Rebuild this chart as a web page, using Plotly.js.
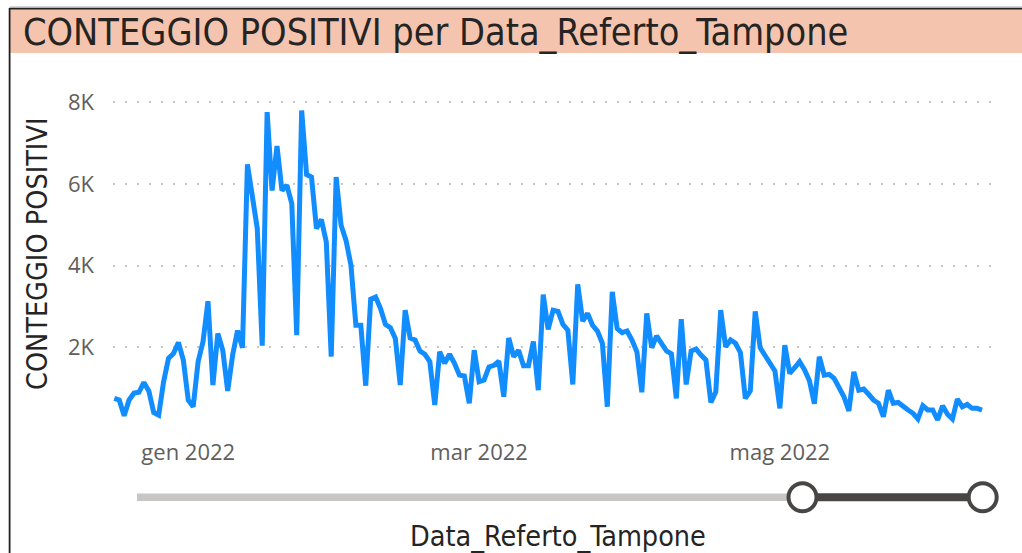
<!DOCTYPE html>
<html>
<head>
<meta charset="utf-8">
<script src="https://cdn.plot.ly/plotly-3.0.1.min.js"></script>
<style>
html,body{margin:0;padding:0;background:#fff;}
#chart{width:1022px;height:553px;}
</style>
</head>
<body>
<div id="chart"></div>
<script>
// ---- data ----
const startDate = '2021-12-17';
const positivi = [
  750, 710, 325, 710, 880, 900, 1140, 930, 400, 340,
  1160, 1730, 1850, 2120, 1690, 710, 545, 1650, 2140, 3130,
  1075, 2340, 1930, 930, 1810, 2410, 1990, 6480, 5700, 4910,
  2040, 7760, 5840, 6930, 5840, 5970, 5520, 2300, 7800, 6230,
  6170, 4910, 5130, 4580, 1770, 6170, 4990, 4620, 4010, 2540,
  2540, 1060, 3180, 3230, 2950, 2560, 2480, 2220, 1075, 2910,
  2230, 2180, 1910, 1830, 1650, 590, 1890, 1610, 1830, 1610,
  1320, 1300, 630, 1930, 1160, 1200, 1520, 1560, 1660, 790,
  2230, 1770, 1930, 1550, 1550, 2140, 950, 3290, 2440, 2910,
  2880, 2560, 2420, 1090, 3540, 2640, 2830, 2540, 2400, 2100,
  545, 3360, 2460, 2360, 2400, 2180, 1890, 900, 2830, 1990,
  2280, 2100, 1910, 1840, 750, 2690, 1090, 1910, 1960, 1810,
  1690, 650, 910, 2910, 2010, 2180, 2100, 1870, 750, 930,
  2880, 1990, 1770, 1610, 1420, 505, 2050, 1360, 1500, 1650,
  1450, 1180, 620, 1770, 1320, 1340, 1240, 1000, 790, 440,
  1400, 950, 980, 850, 710, 630, 300, 950, 630, 650,
  545, 465, 385, 245, 570, 465, 465, 220, 570, 360,
  245, 735, 545, 600, 505, 505, 465
];
const yTickVals = [2000, 4000, 6000, 8000];
const yTickText = ['2K', '4K', '6K', '8K'];
const xTickVals = ['2022-01-01', '2022-03-01', '2022-05-01'];
const xTickText = ['gen 2022', 'mar 2022', 'mag 2022'];
const titleText = 'CONTEGGIO POSITIVI per Data_Referto_Tampone';
const yTitleText = 'CONTEGGIO POSITIVI';
const xTitleText = 'Data_Referto_Tampone';

// dates for each daily value
function dayList(start, n) {
  const out = [];
  const d0 = new Date(start + 'T00:00:00Z');
  for (let i = 0; i < n; i++) {
    const d = new Date(d0.getTime() + i * 86400000);
    out.push(d.toISOString().slice(0, 10));
  }
  return out;
}
const dates = dayList(startDate, positivi.length);

// ---- layout geometry (pixels) ----
const W = 1022, H = 553;
const L = 113, R = 1000, T = 94, B = 441;
const px = x => (x - L) / (R - L);
const py = y => (B - y) / (B - T);

const titleFont = "'DejaVu Sans Condensed', 'Liberation Sans Narrow', 'DejaVu Sans', sans-serif";
const tickFont = "'Open Sans', 'Noto Sans', sans-serif";

const trace = {
  x: dates,
  y: positivi,
  type: 'scatter',
  mode: 'lines',
  line: {color: '#118DFF', width: 5},
  hoverinfo: 'x+y'
};

const shapes = [
  // title band
  {type: 'rect', xref: 'paper', yref: 'paper', x0: px(10), x1: px(1023), y0: py(53), y1: py(8.5),
   fillcolor: '#F5C4AE', line: {width: 0}, layer: 'below'},
  // top grey + black lines
  {type: 'line', xref: 'paper', yref: 'paper', x0: px(10), x1: px(1023), y0: py(6.8), y1: py(6.8),
   line: {color: '#c8c8c8', width: 1.2}},
  {type: 'line', xref: 'paper', yref: 'paper', x0: px(9), x1: px(1023), y0: py(8.6), y1: py(8.6),
   line: {color: '#222222', width: 1.6}},
  // left border
  {type: 'line', xref: 'paper', yref: 'paper', x0: px(9.6), x1: px(9.6), y0: py(8), y1: py(554),
   line: {color: '#222222', width: 1.8}},
  // slider track
  {type: 'line', xref: 'paper', yref: 'paper', x0: px(137), x1: px(802), y0: py(497.3), y1: py(497.3),
   line: {color: '#C8C6C4', width: 7.5}},
  {type: 'line', xref: 'paper', yref: 'paper', x0: px(802), x1: px(983), y0: py(497.3), y1: py(497.3),
   line: {color: '#484644', width: 8}},
  // slider handles
  {type: 'circle', xref: 'paper', yref: 'paper', x0: px(788.5), x1: px(816.5), y0: py(511.3), y1: py(483.3),
   fillcolor: '#ffffff', line: {color: '#484644', width: 4}},
  {type: 'circle', xref: 'paper', yref: 'paper', x0: px(968.7), x1: px(996.7), y0: py(511.3), y1: py(483.3),
   fillcolor: '#ffffff', line: {color: '#484644', width: 4}}
];

const annotations = [
  {text: titleText, xref: 'paper', yref: 'paper', x: px(21), y: py(32), xanchor: 'left', yanchor: 'middle',
   showarrow: false, font: {family: titleFont, size: 37.5, color: '#252423'}},
  {text: yTitleText, xref: 'paper', yref: 'paper', x: px(37), y: py(254), xanchor: 'center', yanchor: 'middle',
   textangle: -90, showarrow: false, font: {family: titleFont, size: 28.5, color: '#252423'}},
  {text: xTitleText, xref: 'paper', yref: 'paper', x: px(558), y: py(536), xanchor: 'center', yanchor: 'middle',
   showarrow: false, font: {family: titleFont, size: 28.5, color: '#252423'}}
];

const layout = {
  width: W, height: H,
  margin: {l: L, r: W - R, t: T, b: H - B, pad: 0},
  paper_bgcolor: '#ffffff',
  plot_bgcolor: '#ffffff',
  showlegend: false,
  xaxis: {
    type: 'date',
    range: ['2021-12-16 17:40', '2022-06-14 15:36'],
    tickvals: xTickVals,
    ticktext: xTickText,
    showgrid: false, zeroline: false, showline: false,
    ticks: '',
    ticklabelstandoff: -4,
    tickfont: {family: tickFont, size: 22, color: '#605E5C'},
    fixedrange: true
  },
  yaxis: {
    range: [-294, 8204],
    tickvals: yTickVals,
    ticktext: yTickText,
    showgrid: true,
    gridcolor: '#C8C6C4',
    gridwidth: 2,
    griddash: '2px,10px',
    zeroline: false, showline: false,
    ticks: '',
    ticklabelstandoff: 18,
    tickfont: {family: tickFont, size: 22, color: '#605E5C'},
    fixedrange: true
  },
  shapes: shapes,
  annotations: annotations
};

Plotly.newPlot('chart', [trace], layout, {displayModeBar: false, staticPlot: true});
</script>
</body>
</html>
